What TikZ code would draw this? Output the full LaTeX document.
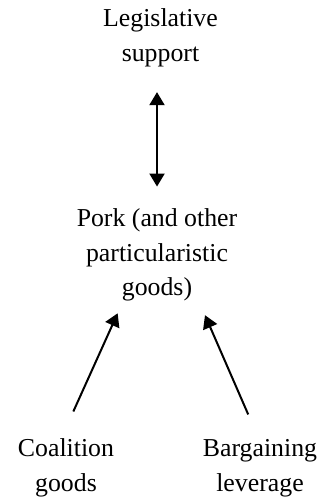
\documentclass[tikz,border=0pt]{standalone}
\usepackage{fontspec}
\setmainfont{Liberation Serif}
\usetikzlibrary{arrows.meta}
\begin{document}
\begin{tikzpicture}[x=1pt,y=1pt,>={Triangle[width=15pt,length=13pt]},
    lbl/.style={align=center,inner sep=0pt,font=\fontsize{25.8}{34.5}\selectfont},
    link/.style={line width=2pt}]
    \useasboundingbox (0,0) rectangle (324,497);
    \node[lbl] (sup) at (160.5,459) {Legislative\\support};
    \node[lbl] (pork) at (157,242) {Pork (and other\\particularistic\\goods)};
    \node[lbl] (coal) at (66,29) {Coalition\\goods};
    \node[lbl] (barg) at (260,29) {Bargaining\\leverage};
    \draw[link,<->,shorten <=25pt,shorten >=22pt] ([xshift=-3.5pt]sup.south) -- (pork.north);
    \draw[link,->,shorten <=30pt,shorten >=13pt] ([xshift=-5pt]coal.north) -- ([xshift=-34pt]pork.south);
    \draw[link,->,shorten <=27pt,shorten >=15pt] ([xshift=-1pt]barg.north) -- ([xshift=42pt]pork.south);
\end{tikzpicture}
\end{document}
